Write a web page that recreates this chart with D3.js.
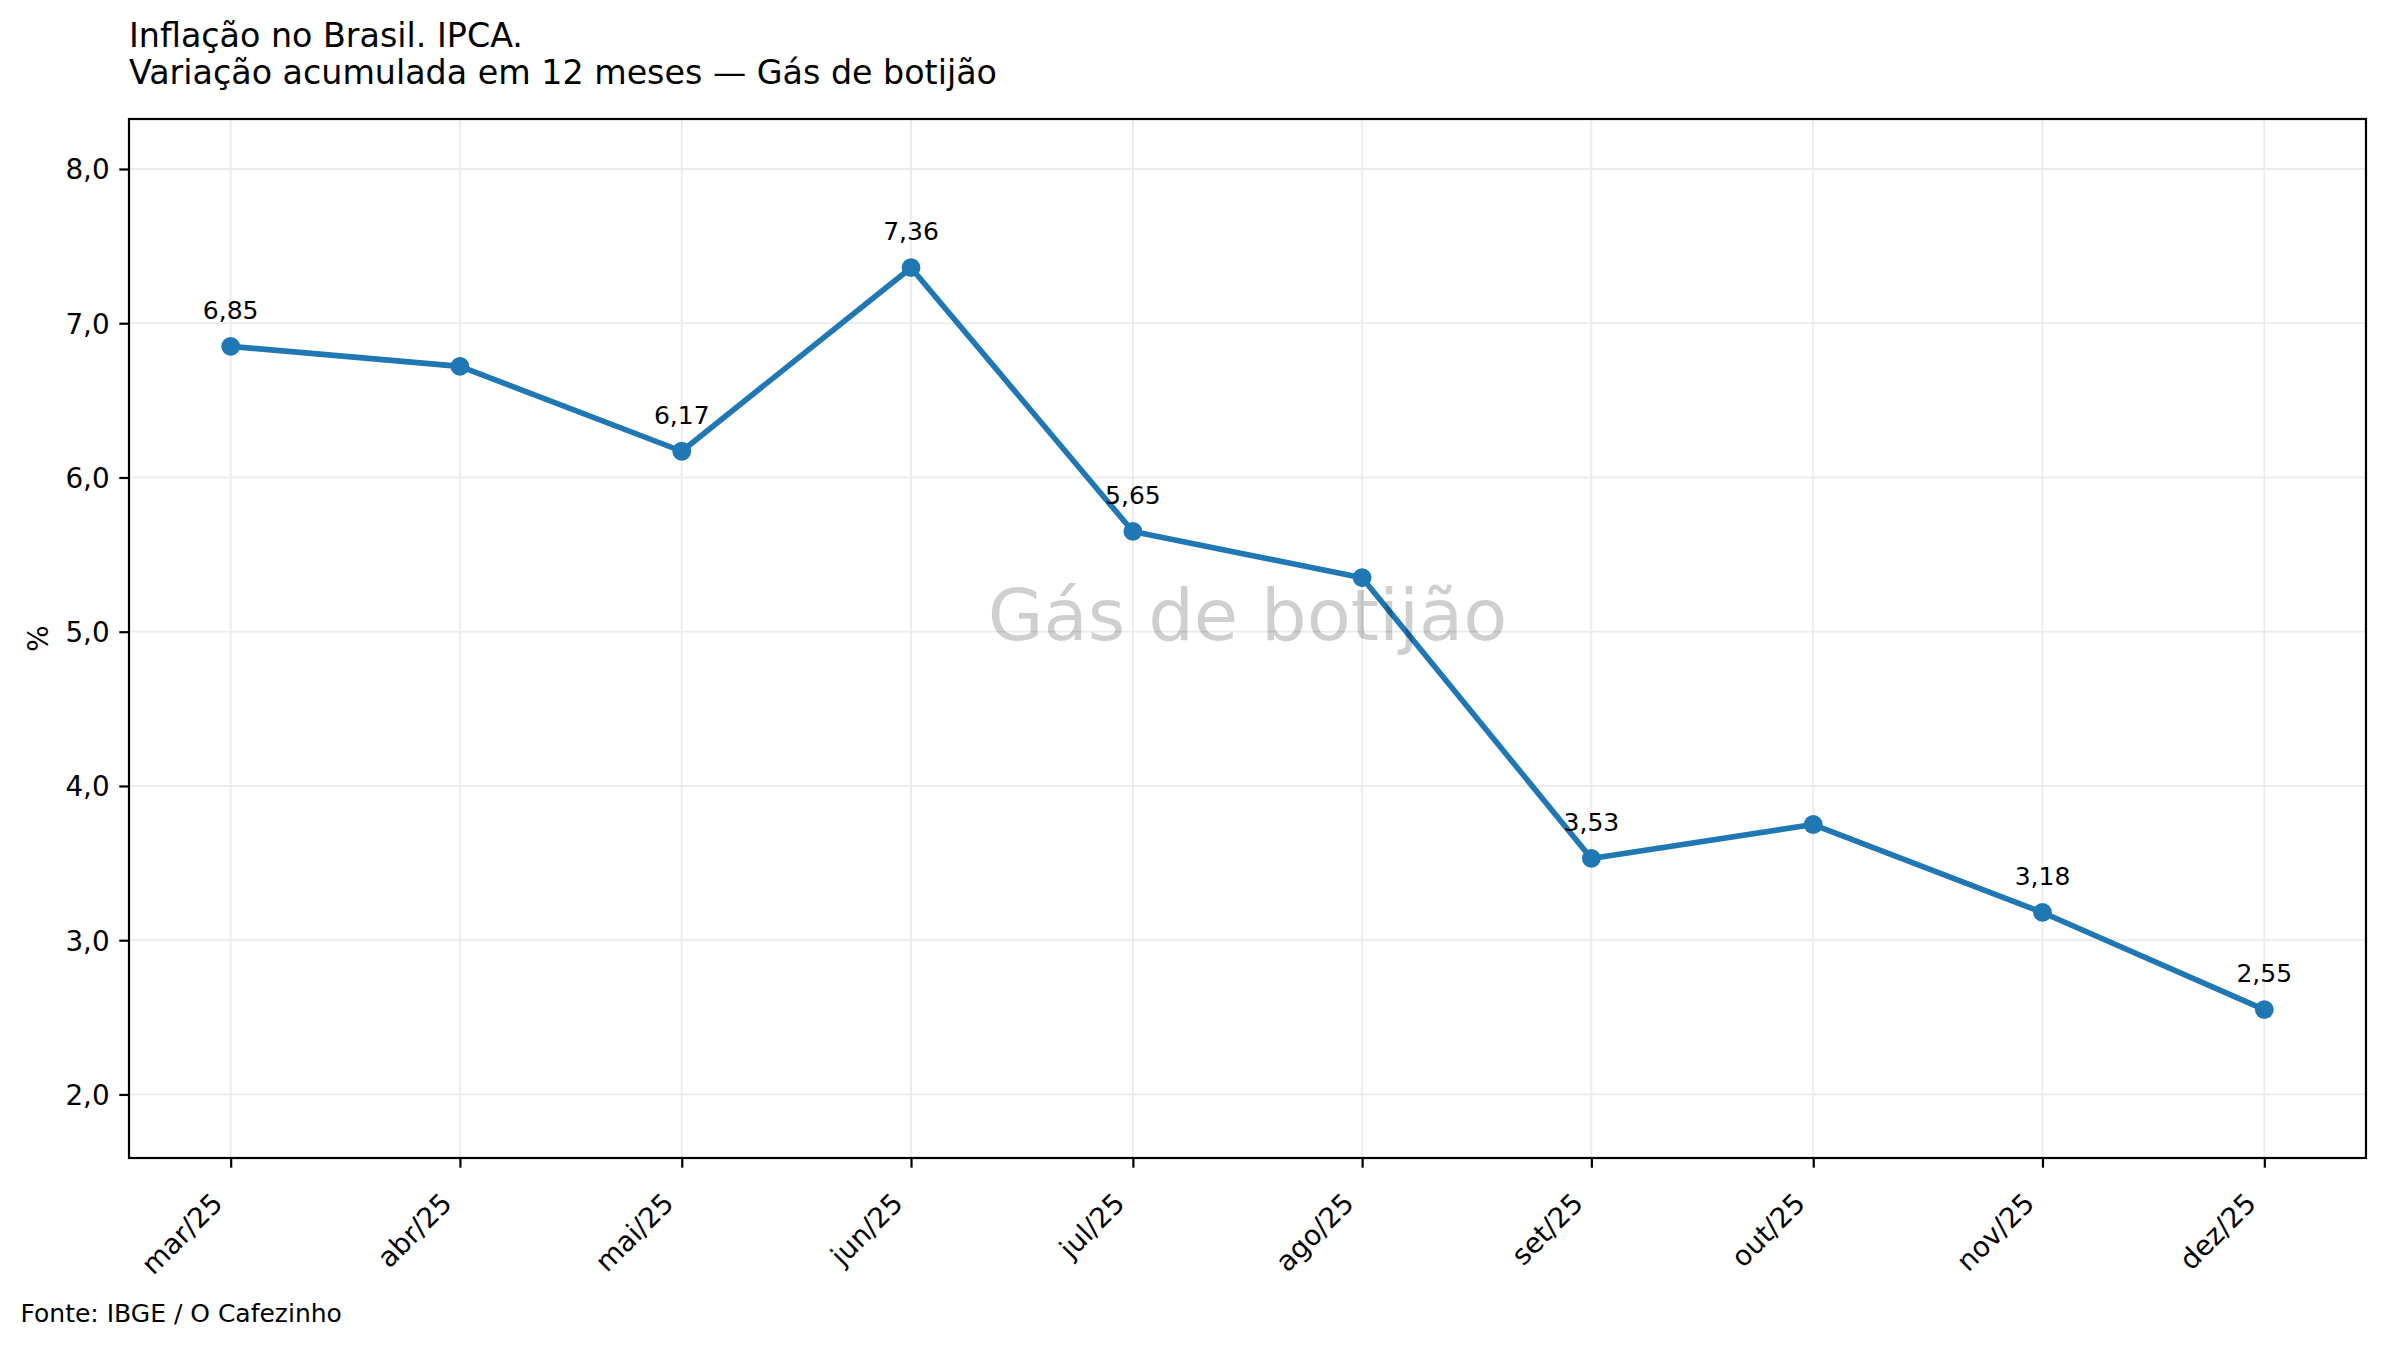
<!DOCTYPE html>
<html>
<head>
<meta charset="utf-8">
<script src="https://cdn.jsdelivr.net/npm/d3@7"></script>
<style>
  html, body { margin: 0; padding: 0; background: #fff; }
  svg { display: block; font-family: "DejaVu Sans", sans-serif; }
</style>
</head>
<body>
<script>
// ---- data ----
const titleLines = ["Inflação no Brasil. IPCA.", "Variação acumulada em 12 meses — Gás de botijão"];
const watermark = "Gás de botijão";
const source = "Fonte: IBGE / O Cafezinho";
const yLabel = "%";
const months = ["2025-03-01","2025-04-01","2025-05-01","2025-06-01","2025-07-01","2025-08-01","2025-09-01","2025-10-01","2025-11-01","2025-12-01"];
const monthLabels = ["mar/25","abr/25","mai/25","jun/25","jul/25","ago/25","set/25","out/25","nov/25","dez/25"];
const values = [6.85, 6.72, 6.17, 7.36, 5.65, 5.35, 3.53, 3.75, 3.18, 2.55];
const labelShown = [true, false, true, true, true, false, true, false, true, true];
const yTicks = [2, 3, 4, 5, 6, 7, 8];
const yDomain = [1.588, 8.324];

// ---- layout ----
const W = 2386, H = 1346;
const plot = { left: 129, right: 2366, top: 119, bottom: 1158 };
const color = "#1f77b4";

const svg = d3.select("body").append("svg").attr("width", W).attr("height", H);
svg.append("rect").attr("width", W).attr("height", H).attr("fill", "#fff");

const dates = months.map(s => new Date(s + "T00:00:00Z"));
const data = dates.map((d, i) => ({ date: d, value: values[i], label: monthLabels[i], show: labelShown[i] }));

const span = dates[dates.length - 1] - dates[0];
const x = d3.scaleUtc()
  .domain([new Date(+dates[0] - span * 0.05), new Date(+dates[dates.length - 1] + span * 0.05)])
  .range([plot.left, plot.right]);
const y = d3.scaleLinear().domain(yDomain).range([plot.bottom, plot.top]);

const fmt1 = v => d3.format(".1f")(v).replace(".", ",");
const fmt2 = v => d3.format(".2f")(v).replace(".", ",");

// grid
const grid = svg.append("g");
grid.selectAll("line.h").data(yTicks).join("line")
  .attr("x1", plot.left).attr("x2", plot.right)
  .attr("y1", d => y(d)).attr("y2", d => y(d))
  .attr("stroke", "#ebebeb").attr("stroke-width", 1.8);
grid.selectAll("line.v").data(dates).join("line")
  .attr("x1", d => x(d)).attr("x2", d => x(d))
  .attr("y1", plot.top).attr("y2", plot.bottom)
  .attr("stroke", "#ebebeb").attr("stroke-width", 1.8);

// line + markers
const line = d3.line().x(d => x(d.date)).y(d => y(d.value));
svg.append("path").datum(data).attr("d", line)
  .attr("fill", "none").attr("stroke", color).attr("stroke-width", 5.6)
  .attr("stroke-linejoin", "round");
svg.append("g").selectAll("circle").data(data).join("circle")
  .attr("cx", d => x(d.date)).attr("cy", d => y(d.value)).attr("r", 9.4)
  .attr("fill", color);

// data labels
svg.append("g").selectAll("text").data(data.filter(d => d.show)).join("text")
  .attr("x", d => x(d.date)).attr("y", d => y(d.value) - 27.2)
  .attr("text-anchor", "middle").attr("font-size", 25).attr("fill", "#000")
  .text(d => fmt2(d.value));

// watermark
svg.append("text")
  .attr("x", (plot.left + plot.right) / 2).attr("y", 640)
  .attr("text-anchor", "middle").attr("font-size", 72)
  .attr("fill", "#000").attr("fill-opacity", 0.19)
  .text(watermark);

// frame
svg.append("rect")
  .attr("x", plot.left).attr("y", plot.top)
  .attr("width", plot.right - plot.left).attr("height", plot.bottom - plot.top)
  .attr("fill", "none").attr("stroke", "#000").attr("stroke-width", 2.2);

// y axis
const yAxis = d3.axisLeft(y).tickValues(yTicks).tickFormat(fmt1).tickSize(9.7).tickPadding(9.7);
const gy = svg.append("g").attr("transform", `translate(${plot.left},0)`).call(yAxis);
gy.select(".domain").remove();
gy.selectAll(".tick line").attr("stroke", "#000").attr("stroke-width", 2.2);
gy.selectAll(".tick text").attr("font-size", 27.8).attr("font-family", "DejaVu Sans").attr("fill", "#000").attr("dy", "0.36em");

// x axis
const xAxis = d3.axisBottom(x).tickValues(dates).tickFormat((d, i) => monthLabels[i]).tickSize(9.7).tickPadding(0);
const gx = svg.append("g").attr("transform", `translate(0,${plot.bottom})`).call(xAxis);
gx.select(".domain").remove();
gx.selectAll(".tick line").attr("stroke", "#000").attr("stroke-width", 2.2);
gx.selectAll(".tick text")
  .attr("font-size", 27.8).attr("font-family", "DejaVu Sans").attr("fill", "#000")
  .attr("text-anchor", "end").attr("dy", null).attr("y", null)
  .attr("transform", "translate(-7,47) rotate(-45)");

// y label
svg.append("text")
  .attr("transform", `translate(48,${(plot.top + plot.bottom) / 2}) rotate(-90)`)
  .attr("text-anchor", "middle").attr("font-size", 27.8).attr("fill", "#000")
  .text(yLabel);

// title
svg.append("g").selectAll("text").data(titleLines).join("text")
  .attr("x", plot.left).attr("y", (d, i) => 47 + i * 37)
  .attr("font-size", 33.3).attr("fill", "#000")
  .text(d => d);

// source
svg.append("text").attr("x", 20.5).attr("y", 1321.7)
  .attr("font-size", 25).attr("fill", "#000").text(source);
</script>
</body>
</html>
